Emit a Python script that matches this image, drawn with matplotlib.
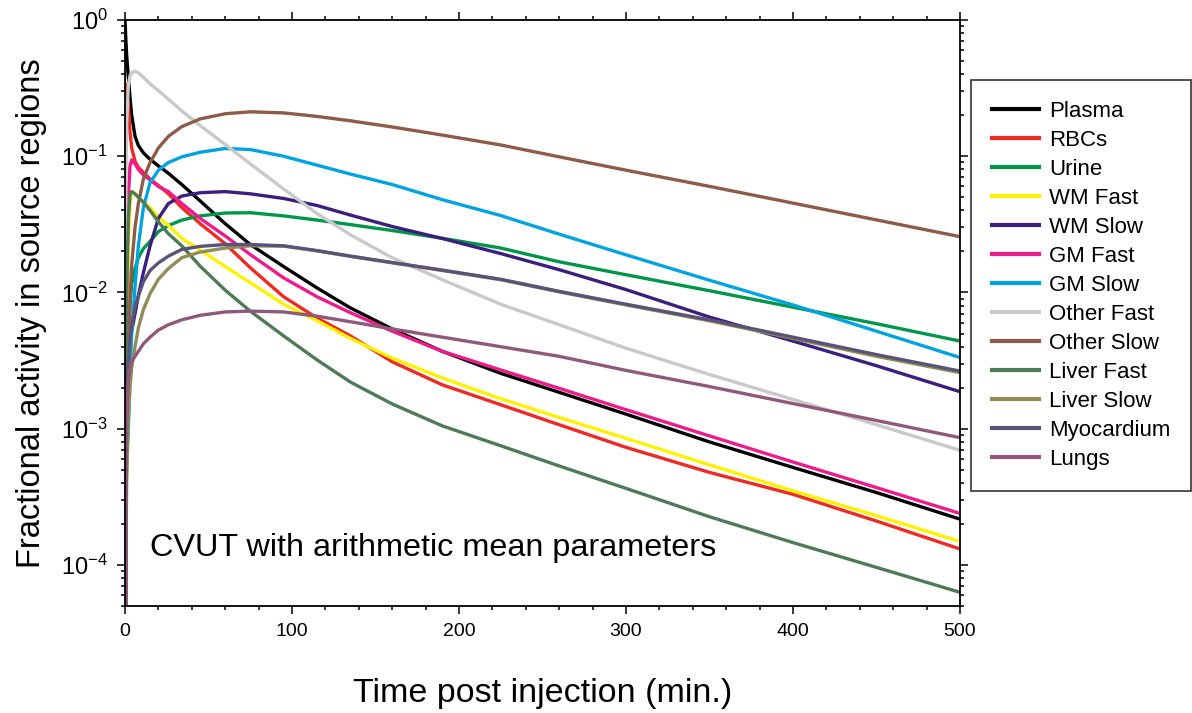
import matplotlib
matplotlib.use('Agg')
import matplotlib.pyplot as plt
from matplotlib.ticker import LogLocator, MultipleLocator, FixedLocator, NullFormatter

plt.rcParams['font.family'] = ['Liberation Sans', 'DejaVu Sans']
plt.rcParams['mathtext.fontset'] = 'custom'
plt.rcParams['mathtext.rm'] = 'Liberation Sans'
plt.rcParams['mathtext.default'] = 'regular'

t = [0, 0.5, 1, 2, 3, 4, 6, 8, 11, 15, 20, 26, 34, 45, 60, 75, 95, 115, 135,
     160, 190, 225, 260, 300, 350, 400, 450, 500]

plasma = [1.0, 0.72, 0.55, 0.38, 0.27, 0.2, 0.14, 0.12, 0.106, 0.095, 0.085, 0.075,
          0.062, 0.047, 0.032, 0.0225, 0.0155, 0.0108, 0.0077, 0.0054, 0.0037,
          0.00255, 0.00185, 0.00128, 0.0008, 0.00052, 0.00034, 0.000217]
rbcs = [0.34, 0.32, 0.3, 0.24, 0.15, 0.115, 0.092, 0.083, 0.076, 0.068, 0.061, 0.053,
        0.042, 0.032, 0.0228, 0.0152, 0.0093, 0.0065, 0.0048, 0.0031, 0.0021,
        0.0015, 0.00107, 0.00073, 0.000478, 0.00033, 0.00021, 0.000131]
urine = [0, 0.0003, 0.001, 0.004, 0.008, 0.0115, 0.015, 0.018, 0.021, 0.0237, 0.028,
         0.031, 0.034, 0.0365, 0.0383, 0.0385, 0.0365, 0.034, 0.0315, 0.0285, 0.025,
         0.0212, 0.0168, 0.0135, 0.0103, 0.0078, 0.0059, 0.0044]
wm_fast = [0, 0.001, 0.005, 0.022, 0.045, 0.055, 0.053, 0.05, 0.046, 0.042, 0.036,
           0.031, 0.025, 0.0205, 0.0155, 0.0118, 0.0082, 0.0062, 0.0046, 0.0033,
           0.00236, 0.00166, 0.00121, 0.00085, 0.000543, 0.00035, 0.00023, 0.000149]
wm_slow = [0, 0.0002, 0.0015, 0.003, 0.0042, 0.0052, 0.007, 0.0095, 0.014, 0.022,
           0.035, 0.045, 0.051, 0.054, 0.055, 0.053, 0.049, 0.0435, 0.0370, 0.0305,
           0.0249, 0.0193, 0.0147, 0.0105, 0.0066, 0.0044, 0.0029, 0.00187]
gm_fast = [0, 0.002, 0.012, 0.05, 0.085, 0.094, 0.088, 0.08, 0.073, 0.067, 0.06,
           0.055, 0.045, 0.035, 0.026, 0.019, 0.0128, 0.0093, 0.0071, 0.0052, 0.0037,
           0.0027, 0.00198, 0.00138, 0.000886, 0.00057, 0.00037, 0.000239]
gm_slow = [0, 0.0003, 0.0006, 0.001, 0.0025, 0.005, 0.011, 0.022, 0.042, 0.064, 0.079,
           0.09, 0.099, 0.107, 0.114, 0.112, 0.1, 0.086, 0.074, 0.062, 0.048, 0.0367,
           0.0268, 0.0189, 0.0123, 0.0081, 0.0052, 0.00333]
other_fast = [0, 0.06, 0.17, 0.33, 0.39, 0.41, 0.42, 0.41, 0.38, 0.34, 0.303, 0.262,
              0.215, 0.168, 0.122, 0.088, 0.0575, 0.038, 0.0265, 0.018, 0.0124,
              0.0082, 0.0058, 0.0039, 0.0025, 0.00164, 0.00107, 0.000695]
other_slow = [0, 0.0003, 0.001, 0.004, 0.009, 0.016, 0.03, 0.045, 0.068, 0.09, 0.115,
              0.14, 0.165, 0.188, 0.205, 0.212, 0.208, 0.196, 0.182, 0.164, 0.143,
              0.121, 0.099, 0.079, 0.0601, 0.0453, 0.0341, 0.0257]
liver_fast = [0, 0.002, 0.01, 0.035, 0.052, 0.055, 0.053, 0.05, 0.046, 0.04, 0.033,
              0.027, 0.022, 0.0156, 0.0104, 0.0073, 0.0048, 0.0032, 0.0022, 0.00152,
              0.00105, 0.00075, 0.000533, 0.000365, 0.000226, 0.000146, 9.6e-5, 6.3e-5]
liver_slow = [0, 0.0001, 0.0004, 0.0012, 0.002, 0.0028, 0.004, 0.0055, 0.0075, 0.0098,
              0.0125, 0.015, 0.018, 0.0198, 0.0212, 0.022, 0.0219, 0.0202, 0.0184,
              0.0165, 0.0145, 0.0124, 0.0101, 0.0081, 0.0062, 0.0046, 0.0034, 0.00258]
myocardium = [0, 0.0003, 0.0012, 0.003, 0.0045, 0.0058, 0.0078, 0.0094, 0.012, 0.0145,
              0.0165, 0.0185, 0.0207, 0.0218, 0.0225, 0.0225, 0.022, 0.0203, 0.0185,
              0.0166, 0.0146, 0.0125, 0.0102, 0.0082, 0.0063, 0.0047, 0.0035, 0.00265]
lungs = [0, 0.0005, 0.0012, 0.0022, 0.0028, 0.0031, 0.0034, 0.0037, 0.0042, 0.0047,
         0.0053, 0.0058, 0.0063, 0.0068, 0.0072, 0.0073, 0.0072, 0.0067, 0.0061, 0.0054,
         0.0047, 0.0040, 0.0034, 0.00268, 0.00204, 0.00153, 0.00115, 0.00086]

labels = ["Plasma", "RBCs", "Urine", "WM Fast", "WM Slow", "GM Fast", "GM Slow",
          "Other Fast", "Other Slow", "Liver Fast", "Liver Slow", "Myocardium", "Lungs"]
series = [plasma, rbcs, urine, wm_fast, wm_slow, gm_fast, gm_slow,
          other_fast, other_slow, liver_fast, liver_slow, myocardium, lungs]
colors = ["#000000", "#ee2a24", "#00954a", "#fff200", "#3a1f7d", "#ec1c8c", "#00a3de",
          "#c9c9c9", "#8e5b4a", "#4f7a58", "#8f8c58", "#5a5277", "#8f5a7a"]

fig = plt.figure(figsize=(11.92, 7.13), dpi=100)
ax = fig.add_axes([125 / 1192, 1 - 606 / 713, 835 / 1192, 586 / 713])

for vals, lab, col in zip(series, labels, colors):
    ax.plot(t, vals, color=col, lw=2.4, label=lab)

ax.set_yscale('log', nonpositive='clip')
ax.set_xlim(0, 500)
ax.set_ylim(5e-5, 1)

ax.xaxis.set_major_locator(MultipleLocator(100))
ax.xaxis.set_minor_locator(MultipleLocator(20))
ax.yaxis.set_major_locator(FixedLocator([1e-4, 1e-3, 1e-2, 1e-1, 1]))
ax.yaxis.set_minor_locator(LogLocator(base=10, subs=range(2, 10), numticks=20))
ax.yaxis.set_minor_formatter(NullFormatter())
ax.set_yticklabels(['10$^{-4}$', '10$^{-3}$', '10$^{-2}$', '10$^{-1}$', '10$^{0}$'])

ax.tick_params(which='both', direction='out', top=True, right=True,
               labelsize=14, width=1.1, color='black')
ax.tick_params(axis='y', which='major', labelsize=17)
ax.tick_params(which='major', length=5.5, pad=7)
ax.tick_params(which='minor', length=3)
for s in ax.spines.values():
    s.set_linewidth(1.3)

ax.set_xlabel("Time post injection (min.)", fontsize=24.5, labelpad=27)
ax.set_ylabel("Fractional activity in source regions", fontsize=23.5, labelpad=10)

ax.text(150 / 1192, 1 - 548 / 713, "CVUT with arithmetic mean parameters",
        transform=fig.transFigure, fontsize=23.3, va='center', ha='left')

leg = ax.legend(loc='upper left', bbox_to_anchor=(971 / 1192, 1 - 80 / 713),
                bbox_transform=fig.transFigure, fontsize=16, frameon=True,
                fancybox=False, edgecolor='black', handlelength=2.1,
                handletextpad=0.45, labelspacing=0.36, borderpad=0.95,
                borderaxespad=0)
leg.get_frame().set_linewidth(1.2)
for line in leg.get_lines():
    line.set_linewidth(3)

fig.savefig('out.png', dpi=100)
